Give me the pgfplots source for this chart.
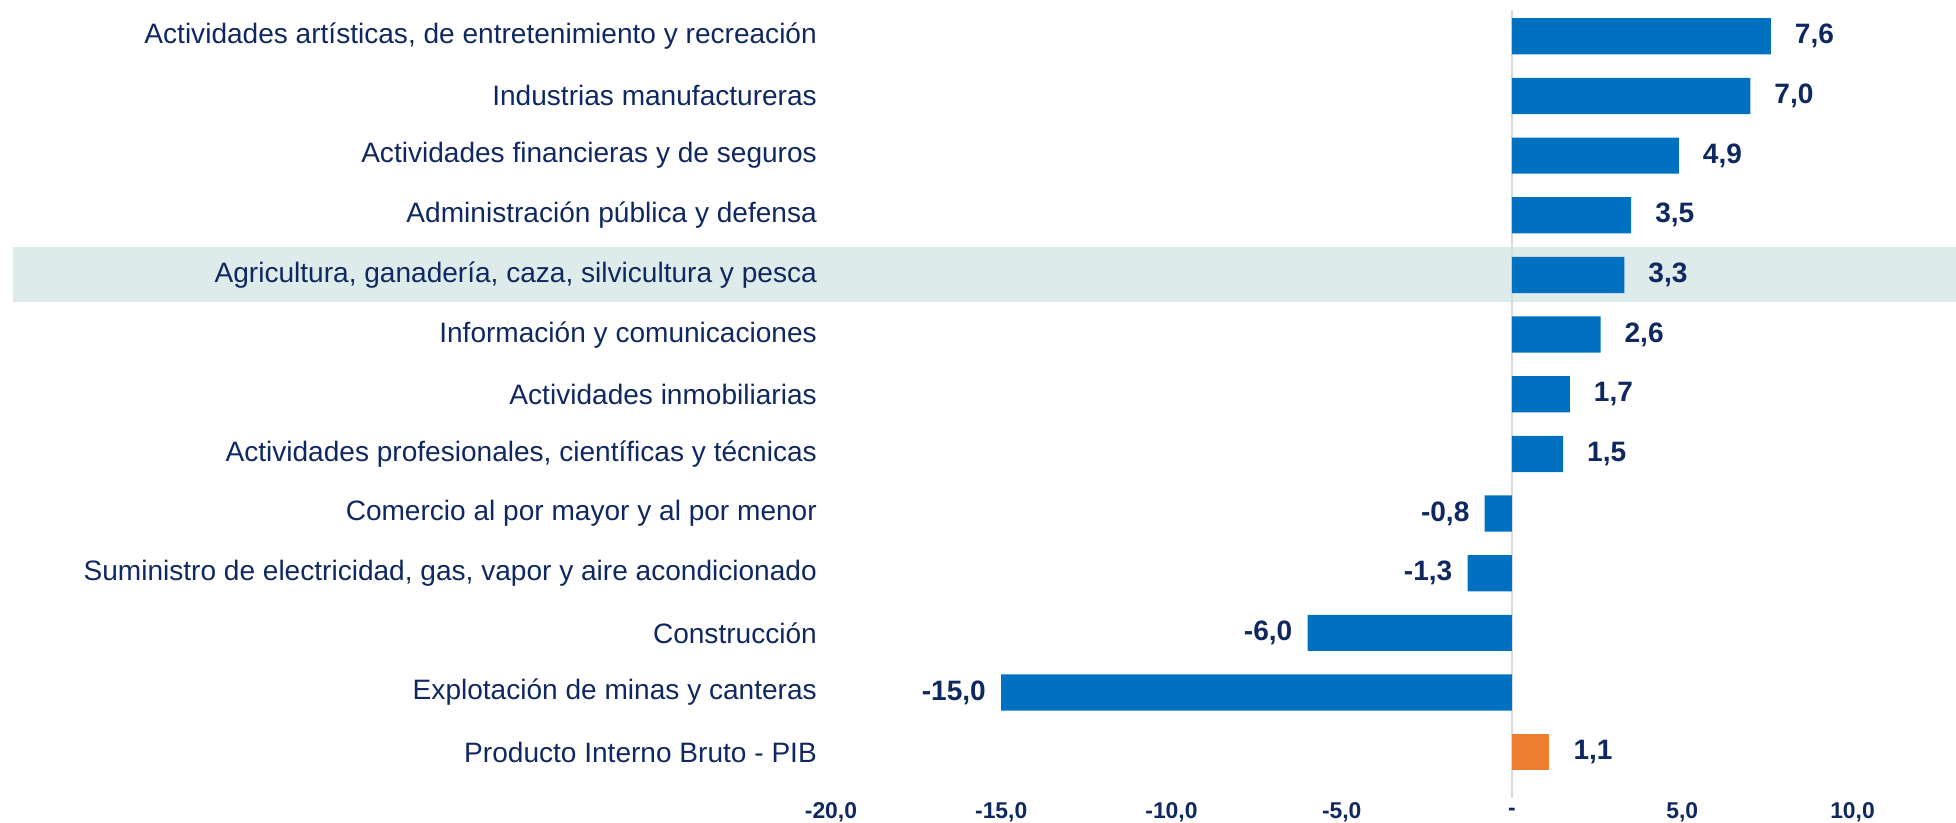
\documentclass[border=0pt]{standalone}
\usepackage{pgfplots}
\pgfplotsset{compat=1.18}
\usepackage{fontspec}
\setmainfont{Liberation Sans}
\definecolor{barblue}{RGB}{0,112,192}
\definecolor{barorange}{RGB}{237,125,49}
\definecolor{bandcol}{RGB}{222,235,235}
\definecolor{navy}{RGB}{16,40,96}
\definecolor{zeroline}{RGB}{217,217,217}
\begin{document}
\begin{tikzpicture}
\begin{axis}[
  at={(0,0)}, anchor=south west,
  set layers, scale only axis,
  width=546.1pt, height=373.1pt,
  xmin=-20.3, xmax=13.04, ymin=-0.5, ymax=12.5,
  xbar, bar width=17.4pt, bar shift=0pt,
  axis line style={draw=none}, major tick length=0pt, tick style={draw=none},
  xtick={-20,-15,-10,-5,0,5,10},
  xticklabels={{-20,0},{-15,0},{-10,0},{-5,0},-,{5,0},{10,0}},
  xticklabel style={font=\fontsize{11}{12}\selectfont\bfseries, text=navy, anchor=center, inner sep=0pt, yshift=-14.4pt},
  ytick={0,...,12},
  yticklabels={
    {Producto Interno Bruto - PIB},
    {Explotación de minas y canteras},
    {Construcción},
    {Suministro de electricidad, gas, vapor y aire acondicionado},
    {Comercio al por mayor y al por menor},
    {Actividades profesionales, científicas y técnicas},
    {Actividades inmobiliarias},
    {Información y comunicaciones},
    {Agricultura, ganadería, caza, silvicultura y pesca},
    {Administración pública y defensa},
    {Actividades financieras y de seguros},
    {Industrias manufactureras},
    {Actividades artísticas, de entretenimiento y recreación}},
  yticklabel style={font=\fontsize{13.5}{16}\selectfont, text=navy, anchor=east, inner sep=0pt, xshift=-1.7pt},
  clip=false,
  point meta=explicit symbolic,
  nodes near coords,
  every node near coord/.append style={font=\fontsize{13.5}{16}\selectfont\bfseries, text=navy, inner sep=0pt},
]
\begin{pgfonlayer}{axis background}
\fill[bandcol] (axis cs:-44.03,7.54) rectangle (axis cs:13.04,8.46);
\draw[zeroline, line width=1pt] (axis cs:0,-0.77) -- (axis cs:0,12.44);
\end{pgfonlayer}
\addplot[fill=barblue, draw=none, every node near coord/.append style={anchor=west, xshift=11.4pt}]
  coordinates {
    (7.6,12) [7,6]
    (7.0,11) [7,0]
    (4.9,10) [4,9]
    (3.5,9) [3,5]
    (3.3,8) [3,3]
    (2.6,7) [2,6]
    (1.7,6) [1,7]
    (1.5,5) [1,5]
  };
\addplot[fill=barblue, draw=none, every node near coord/.append style={anchor=east, xshift=-7.2pt}]
  coordinates {
    (-0.8,4) [-0,8]
    (-1.3,3) [-1,3]
    (-6.0,2) [-6,0]
    (-15.0,1) [-15,0]
  };
\addplot[fill=barorange, draw=none, every node near coord/.append style={anchor=west, xshift=11.4pt}]
  coordinates {
    (1.1,0) [1,1]
  };
\end{axis}
\path (-394.8pt,-19.3pt) rectangle (546.1pt,376.2pt);
\end{tikzpicture}
\end{document}
